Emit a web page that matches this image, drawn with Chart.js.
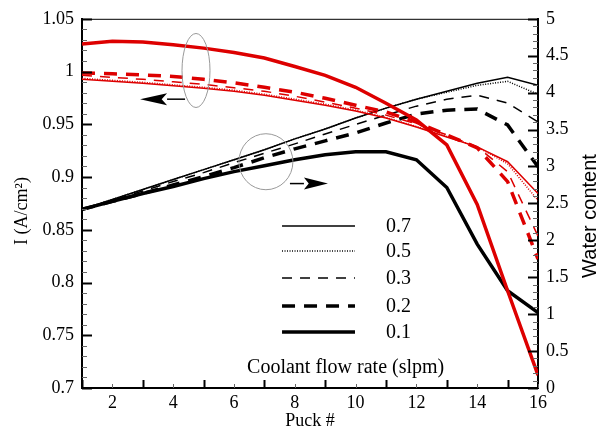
<!DOCTYPE html>
<html>
<head>
<meta charset="utf-8">
<script src="https://cdn.jsdelivr.net/npm/chart.js@4.4.0/dist/chart.umd.min.js"></script>
<style>
html, body { margin: 0; padding: 0; background: #fff; }
</style>
</head>
<body>
<canvas id="chart" width="597" height="432"></canvas>
<script>
// Puck positions along the stack
const puck = [1, 2, 3, 4, 5, 6, 7, 8, 9, 10, 11, 12, 13, 14, 15, 16];

// Coolant flow rates (slpm), one curve pair per rate
const flowRates = ['0.7', '0.5', '0.3', '0.2', '0.1'];

// Current density I (A/cm2), left axis, red curves
const current07 = [0.9926, 0.9907, 0.9888, 0.9865, 0.9841, 0.9813, 0.9776, 0.9728, 0.9681, 0.9625, 0.9559, 0.9474, 0.938, 0.9286, 0.9145, 0.8844];
const current05 = [0.9935, 0.9917, 0.9898, 0.9874, 0.9851, 0.9823, 0.9785, 0.9738, 0.9691, 0.9634, 0.9564, 0.9479, 0.9385, 0.9286, 0.9126, 0.8778];
const current03 = [0.9964, 0.9945, 0.9926, 0.9903, 0.9879, 0.9846, 0.9813, 0.9766, 0.971, 0.9653, 0.9587, 0.9503, 0.9399, 0.9286, 0.9051, 0.844];
const current02 = [0.9987, 0.9978, 0.9968, 0.9954, 0.9926, 0.9893, 0.9851, 0.9804, 0.9747, 0.9681, 0.9616, 0.9521, 0.9399, 0.9277, 0.8957, 0.8223];
const current01 = [1.026, 1.0288, 1.0279, 1.0255, 1.0222, 1.018, 1.0128, 1.0048, 0.9964, 0.9851, 0.97, 0.954, 0.9305, 0.8741, 0.7922, 0.7122];

// Water content, right axis, black curves
const water07 = [2.419, 2.554, 2.688, 2.823, 2.957, 3.091, 3.226, 3.374, 3.508, 3.656, 3.79, 3.911, 4.019, 4.126, 4.207, 4.099];
const water05 = [2.419, 2.554, 2.688, 2.823, 2.957, 3.091, 3.226, 3.374, 3.508, 3.656, 3.79, 3.911, 4.005, 4.099, 4.153, 3.978];
const water03 = [2.419, 2.54, 2.668, 2.796, 2.917, 3.051, 3.179, 3.306, 3.441, 3.569, 3.696, 3.817, 3.911, 3.965, 3.858, 3.602];
const water02 = [2.419, 2.527, 2.634, 2.749, 2.863, 2.984, 3.118, 3.239, 3.347, 3.454, 3.589, 3.71, 3.763, 3.777, 3.562, 2.997];
const water01 = [2.419, 2.527, 2.634, 2.728, 2.836, 2.93, 3.011, 3.091, 3.159, 3.199, 3.199, 3.091, 2.715, 1.949, 1.317, 1.022];

const currentSeries = [current07, current05, current03, current02, current01];
const waterSeries = [water07, water05, water03, water02, water01];

// Line style for each flow rate
const lineStyles = [
	{width: 1.5, dash: []},
	{width: 1.5, dash: [1, 1.5]},
	{width: 1.5, dash: [10, 8]},
	{width: 3.5, dash: [13, 9]},
	{width: 3.5, dash: []},
];

const RED = '#dd0000';
const serif = 'Liberation Serif, Times New Roman, serif';
const sans = 'Liberation Sans, Arial, sans-serif';
const tickFont = {family: serif, size: 18};

const toPoints = (values) => values.map((v, i) => ({x: puck[i], y: v}));

const datasets = [];
// red first so they are painted on top of the black curves
currentSeries.forEach((values, i) => {
	datasets.push({
		label: 'I ' + flowRates[i],
		data: toPoints(values),
		yAxisID: 'y',
		borderColor: RED,
		borderWidth: lineStyles[i].width,
		borderDash: lineStyles[i].dash,
		pointRadius: 0,
		tension: 0,
		fill: false,
	});
});
waterSeries.forEach((values, i) => {
	datasets.push({
		label: 'Water ' + flowRates[i],
		data: toPoints(values),
		yAxisID: 'y2',
		borderColor: '#000',
		borderWidth: lineStyles[i].width,
		borderDash: lineStyles[i].dash,
		pointRadius: 0,
		tension: 0,
		fill: false,
	});
});

// Draws inward tick marks for an axis
const drawTicks = (ctx, scale, from, to, step, majorEvery, side, area) => {
	const count = Math.round((to - from) / step);
	for (let k = 0; k <= count; k++) {
		const v = from + k * step;
		const major = k % majorEvery === 0;
		const len = major ? 10 : 5;
		ctx.lineWidth = major ? 2 : 1;
		ctx.strokeStyle = major ? '#000' : '#666';
		ctx.beginPath();
		if (side === 'left' || side === 'right') {
			const y = Math.round(scale.getPixelForValue(v)) + 0.5;
			const x0 = side === 'left' ? area.left : area.right;
			const x1 = side === 'left' ? x0 + len : x0 - len;
			ctx.moveTo(x0, y);
			ctx.lineTo(x1, y);
		} else {
			const x = Math.round(scale.getPixelForValue(v)) + 0.5;
			const l = major ? 8 : 4;
			ctx.moveTo(x, area.bottom);
			ctx.lineTo(x, area.bottom - l);
		}
		ctx.stroke();
	}
};

const drawArrow = (ctx, x0, x1, y, headLen) => {
	const dir = x1 > x0 ? 1 : -1;
	ctx.strokeStyle = '#000';
	ctx.fillStyle = '#000';
	ctx.lineWidth = 1.5;
	ctx.beginPath();
	ctx.moveTo(x0, y);
	ctx.lineTo(x1 - dir * headLen, y);
	ctx.stroke();
	ctx.beginPath();
	ctx.moveTo(x1, y);
	ctx.lineTo(x1 - dir * headLen, y - 6);
	ctx.lineTo(x1 - dir * headLen * 0.8, y);
	ctx.lineTo(x1 - dir * headLen, y + 6);
	ctx.closePath();
	ctx.fill();
};

const drawVerticalText = (ctx, text, x, y, font) => {
	ctx.save();
	ctx.translate(x, y);
	ctx.rotate(-Math.PI / 2);
	ctx.font = font;
	ctx.fillStyle = '#000';
	ctx.textAlign = 'center';
	ctx.textBaseline = 'alphabetic';
	ctx.fillText(text, 0, 0);
	ctx.restore();
};

const decorations = {
	id: 'decorations',
	afterDatasetsDraw(chart) {
		const {ctx, chartArea: area, scales} = chart;
		const {x, y, y2} = scales;
		ctx.save();
		ctx.setLineDash([]);

		// top frame line
		ctx.strokeStyle = '#000';
		ctx.lineWidth = 1;
		ctx.beginPath();
		ctx.moveTo(area.left, area.top + 0.5);
		ctx.lineTo(area.right, area.top + 0.5);
		ctx.stroke();

		// even puck numbers are majors
		drawTicks(ctx, y, 0.7, 1.05, 0.01, 5, 'left', area);
		drawTicks(ctx, y2, 0, 5, 0.1, 5, 'right', area);
		drawTicks(ctx, x, 1, 16, 1, 2, 'bottom', area);
		ctx.restore();

		// axis titles for left and right, both read bottom to top
		drawVerticalText(ctx, 'I (A/cm²)', 27, 211, '18px ' + serif);
		drawVerticalText(ctx, 'Water content', 596, 216, '20px ' + sans);

		// annotation ellipses and arrows
		ctx.save();
		ctx.strokeStyle = '#999';
		ctx.lineWidth = 1;
		ctx.beginPath();
		ctx.ellipse(x.getPixelForValue(4.75), y.getPixelForValue(1.001), 14, 37, 0, 0, Math.PI * 2);
		ctx.stroke();
		ctx.beginPath();
		ctx.ellipse(x.getPixelForValue(7.05), y.getPixelForValue(0.9145), 27, 28, 0, 0, Math.PI * 2);
		ctx.stroke();
		drawArrow(ctx, x.getPixelForValue(4.39), x.getPixelForValue(2.91), y.getPixelForValue(0.9738), 27);
		drawArrow(ctx, x.getPixelForValue(7.84), x.getPixelForValue(9.09), y.getPixelForValue(0.8938), 24);
		ctx.restore();

		// legend inside plot
		ctx.save();
		const rowY = [0.854, 0.83, 0.8045, 0.778, 0.7535];
		const lx0 = x.getPixelForValue(7.58);
		const lx1 = x.getPixelForValue(9.98);
		const tx = x.getPixelForValue(11.0);
		ctx.font = '20px ' + serif;
		ctx.fillStyle = '#000';
		ctx.textBaseline = 'middle';
		ctx.textAlign = 'left';
		flowRates.forEach((rate, i) => {
			const py = Math.round(y.getPixelForValue(rowY[i]));
			ctx.strokeStyle = '#000';
			ctx.lineWidth = lineStyles[i].width;
			ctx.setLineDash(lineStyles[i].dash);
			ctx.beginPath();
			ctx.moveTo(lx0, py);
			ctx.lineTo(lx1, py);
			ctx.stroke();
			ctx.fillText(rate, tx, py + 1);
		});
		ctx.fillText('Coolant flow rate (slpm)', x.getPixelForValue(6.43), y.getPixelForValue(0.719));
		ctx.restore();
	},
};

new Chart(document.getElementById('chart'), {
	type: 'line',
	data: {datasets},
	options: {
		responsive: false,
		animation: false,
		layout: {padding: {top: 16, left: 0, right: 0, bottom: 0}},
		plugins: {legend: {display: false}, tooltip: {enabled: false}},
		scales: {
			x: {
				type: 'linear',
				min: 1,
				max: 16,
				ticks: {
					stepSize: 1,
					autoSkip: false,
					maxRotation: 0,
					padding: 4,
					color: '#000',
					font: tickFont,
					callback: (v) => (v % 2 === 0 ? v : ''),
				},
				grid: {display: false, drawTicks: false},
				border: {display: true, color: '#000', width: 2},
				title: {display: true, text: 'Puck #', color: '#000', font: tickFont, padding: {top: 2, bottom: 0}},
				afterFit: (s) => { s.height = 44; },
			},
			y: {
				type: 'linear',
				position: 'left',
				min: 0.7,
				max: 1.05,
				ticks: {
					stepSize: 0.05,
					padding: 8,
					color: '#000',
					font: tickFont,
					callback: (v) => String(+v.toFixed(2)),
				},
				grid: {display: false, drawTicks: false},
				border: {display: true, color: '#000', width: 2},
				title: {display: false},
				afterFit: (s) => { s.width = 82; },
			},
			y2: {
				type: 'linear',
				position: 'right',
				min: 0,
				max: 5,
				ticks: {
					stepSize: 0.5,
					padding: 8,
					color: '#000',
					font: tickFont,
					callback: (v) => String(+v.toFixed(1)),
				},
				grid: {display: false, drawTicks: false},
				border: {display: true, color: '#000', width: 2},
				title: {display: false},
				afterFit: (s) => { s.width = 59; },
			},
		},
	},
	plugins: [decorations],
});
</script>
</body>
</html>
